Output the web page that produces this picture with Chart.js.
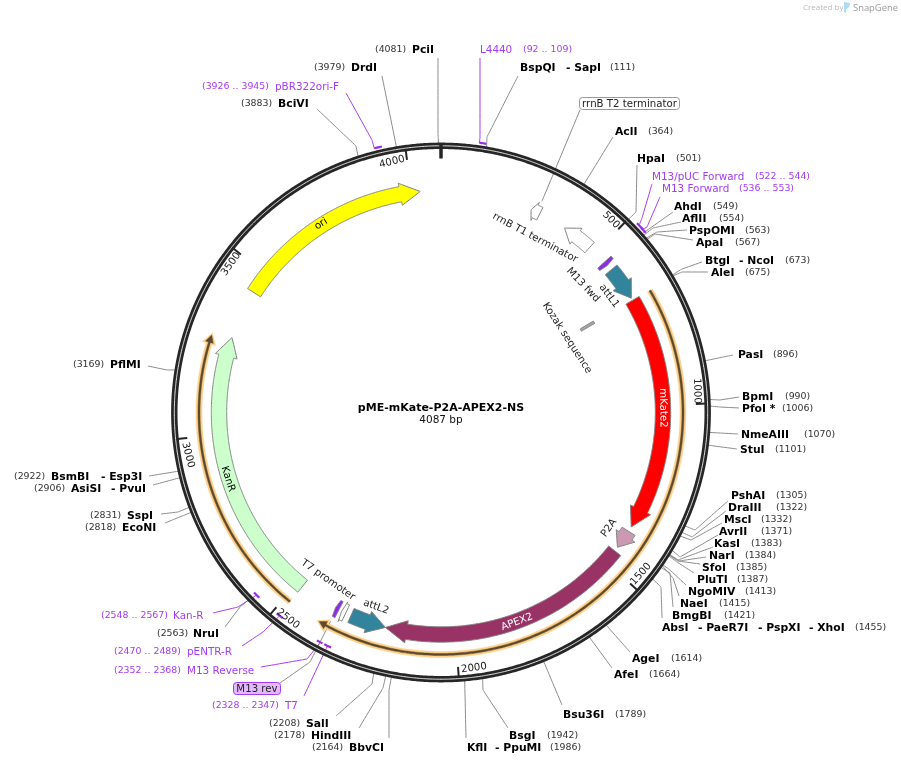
<!DOCTYPE html>
<html>
<head>
<meta charset="utf-8">
<title>pME-mKate-P2A-APEX2-NS</title>
<script src="https://cdn.jsdelivr.net/npm/chart.js@4"></script>
<style>
  html, body { margin: 0; padding: 0; background: #fff; }
  canvas { display: block; }
</style>
</head>
<body>
<canvas id="map" width="901" height="765"></canvas>
<script>
const PLASMID_NAME = 'pME-mKate-P2A-APEX2-NS';
const PLASMID_BP = 4087;

// features: start/end in bp, direction follows start -> end
const featureNames = ['ori', 'KanR', 'mKate2', 'APEX2', 'P2A', 'attL1', 'attL2', 'rrnB T1 terminator', 'rrnB T2 terminator', 'M13 fwd', 'M13 rev', 'T7 promoter', 'Kozak sequence'];
const featureStart = [3436, 2481, 677, 1459, 1389, 568, 2315, 477, 300, 538, 2354, 2332, 670];
const featureEnd   = [4026, 3289, 1374, 2208, 1446, 670, 2208, 384, 272, 551, 2366, 2345, 680];
const featureNeck  = [3967, 3232, 1317, 2145, 1405, 621, 2262, 425, 285, 547, 2362, 2341, 680];

const overlayNames = ['ORF forward', 'ORF reverse'];
const overlayStart = [678, 2482];
const overlayEnd   = [2393, 3283];

const tickBp = [500, 1000, 1500, 2000, 2500, 3000, 3500, 4000];
const tickLabels = ['500', '1000', '1500', '2000', '2500', '3000', '3500', '4000'];

const siteNames = [
  ['PciI'], ['DrdI'], ['BciVI'], ['BspQI', '- SapI'], ['AclI'], ['HpaI'], ['AhdI'], ['AflII'], ['PspOMI'], ['ApaI'],
  ['BtgI', '- NcoI'], ['AleI'], ['PasI'], ['BpmI'], ['PfoI *'], ['NmeAIII'], ['StuI'], ['PshAI'], ['DraIII'], ['MscI'],
  ['AvrII'], ['KasI'], ['NarI'], ['SfoI'], ['PluTI'], ['NgoMIV'], ['NaeI'], ['BmgBI'], ['AbsI', '- PaeR7I', '- PspXI', '- XhoI'],
  ['AgeI'], ['AfeI'], ['Bsu36I'], ['BsgI'], ['KflI', '- PpuMI'], ['SalI'], ['HindIII'], ['BbvCI'], ['NruI'],
  ['EcoNI'], ['SspI'], ['AsiSI', '- PvuI'], ['BsmBI', '- Esp3I'], ['PflMI']
];
const siteBp = [
  4081, 3979, 3883, 111, 364, 501, 549, 554, 563, 567,
  673, 675, 896, 990, 1006, 1070, 1101, 1305, 1322, 1332,
  1371, 1383, 1384, 1385, 1387, 1413, 1415, 1421, 1455,
  1614, 1664, 1789, 1942, 1986, 2208, 2178, 2164, 2563,
  2818, 2831, 2906, 2922, 3169
];

const primerNames = ['L4440', 'pBR322ori-F', 'M13/pUC Forward', 'M13 Forward', 'Kan-R', 'pENTR-R', 'M13 Reverse', 'T7'];
const primerStart = [92, 3926, 522, 536, 2548, 2470, 2352, 2328];
const primerEnd   = [109, 3945, 544, 553, 2567, 2489, 2368, 2347];

// label routing, same order as the lists above. path runs from the label towards the ring
const siteLayout = [
  { x: [412], num: 375, y: 50, path: [[438, 58], [438, 133]] },
  { x: [351], num: 314, y: 68, path: [[382, 76]] },
  { x: [278], num: 241, y: 104, path: [[317, 109], [356, 146]] },
  { x: [520, 566], num: 610, y: 68, path: [[518, 76], [487, 137]] },
  { x: [615], num: 648, y: 132, path: [[613, 137]] },
  { x: [637], num: 676, y: 159, path: [[637, 165], [636, 212]] },
  { x: [674], num: 713, y: 207, path: [[673, 212]] },
  { x: [682], num: 719, y: 219, path: [[681, 222], [653, 228]] },
  { x: [689], num: 745, y: 231, path: [[687, 230], [657, 232]] },
  { x: [696], num: 735, y: 243, path: [[693, 240], [655, 234]] },
  { x: [705, 739], num: 785, y: 261, path: [[702, 262], [682, 269]] },
  { x: [711], num: 745, y: 273, path: [[708, 272], [682, 272]] },
  { x: [738], num: 773, y: 355, path: [[733, 355]] },
  { x: [742], num: 785, y: 397, path: [[739, 397], [720, 400]] },
  { x: [742], num: 782, y: 409, path: [[739, 408], [720, 407]] },
  { x: [741], num: 804, y: 435, path: [[738, 434]] },
  { x: [740], num: 775, y: 450, path: [[737, 449]] },
  { x: [731], num: 776, y: 496, path: [[728, 501], [695, 530]] },
  { x: [728], num: 776, y: 508, path: [[726, 511], [692, 537]] },
  { x: [724], num: 761, y: 520, path: [[722, 523], [691, 540]] },
  { x: [719], num: 761, y: 532, path: [[718, 535], [680, 557]] },
  { x: [714], num: 751, y: 544, path: [[713, 547], [678, 560]] },
  { x: [709], num: 745, y: 556, path: [[706, 557], [679, 561]] },
  { x: [702], num: 736, y: 568, path: [[700, 564], [678, 561]] },
  { x: [697], num: 737, y: 580, path: [[694, 573], [677, 562]] },
  { x: [688], num: 745, y: 592, path: [[686, 585], [670, 570]] },
  { x: [680], num: 719, y: 604, path: [[679, 596], [673, 578]] },
  { x: [672], num: 724, y: 616, path: [[673, 607], [670, 573]] },
  { x: [662, 698, 758, 809], num: 855, y: 628, path: [[662, 618], [661, 587]] },
  { x: [632], num: 671, y: 659, path: [[630, 652]] },
  { x: [614], num: 649, y: 675, path: [[612, 668]] },
  { x: [563], num: 615, y: 715, path: [[562, 705]] },
  { x: [509], num: 547, y: 736, path: [[508, 728], [483, 690]] },
  { x: [467, 495], num: 550, y: 748, path: [[466, 738]] },
  { x: [306], num: 269, y: 724, path: [[336, 716], [372, 684]] },
  { x: [311], num: 274, y: 736, path: [[359, 728], [383, 688]] },
  { x: [349], num: 312, y: 748, path: [[389, 738], [389, 690]] },
  { x: [193], num: 157, y: 634, path: [[225, 627], [240, 607]] },
  { x: [122], num: 85, y: 528, path: [[165, 523]] },
  { x: [127], num: 90, y: 516, path: [[161, 514], [178, 512]] },
  { x: [71, 111], num: 34, y: 489, path: [[153, 485]] },
  { x: [51, 101], num: 14, y: 477, path: [[149, 476]] },
  { x: [110], num: 73, y: 365, path: [[148, 366], [167, 370]] }
];
const primerLayout = [
  { x: 480, num: 523, y: 50, path: [[480, 58], [480, 138]], at: 92 },
  { x: 275, num: 202, y: 87, path: [[346, 93], [372, 140]], at: 3926 },
  { x: 652, num: 755, y: 177, path: [[652, 184], [642, 218]], at: 530 },
  { x: 662, num: 739, y: 189, path: [[660, 197], [647, 227]], at: 542 },
  { x: 173, num: 101, y: 616, path: [[213, 613], [238, 607]], at: 2558 },
  { x: 187, num: 114, y: 652, path: [[242, 646], [263, 632]], at: 2480 },
  { x: 187, num: 114, y: 671, path: [[261, 667], [307, 659]], at: 2358 },
  { x: 285, num: 212, y: 706, path: [[304, 696]], at: 2338 }
];
const primerOutside = [true, true, true, true, false, false, false, false];
const tickLayout = [[611, 220, 45], [697, 391, 88], [641, 574, -48], [474, 668, -7], [288, 619, 38], [188, 455, 76], [231, 264, -55], [392, 162, -14]];
const featureColors = ['#ffff00', '#ccffcc', '#ff0000', '#993366', '#cc99b2', '#31849b', '#31849b', '#ffffff', '#ffffff', '#8f2be6', '#8f2be6', '#ffffff', '#a6a6a6'];
const featureLabels = [
  ['ori', 321, 224, -33, '#000'], ['KanR', 228, 479, 72, '#000'], ['mKate2', 663, 408, 89, '#fff'],
  ['APEX2', 517, 622, -20, '#fff'], ['P2A', 609, 528, -54, '#222'], ['attL1', 609, 296, 53, '#222'],
  ['attL2', 376, 607, 20, '#222'], ['rrnB T1 terminator', 535, 238, 28, '#222'], ['M13 fwd', 583, 285, 47, '#222'],
  ['T7 promoter', 328, 580, 35, '#222'], ['Kozak sequence', 567, 338, 57, '#222']
];

const CX = 441, CY = 412.5, FEATURE_R = 222, GOLD_R = 242;
const SITE_BLACK = '#000', NUM_GREY = '#333', PURPLE = '#a63bf2', LEADER = '#8c8c8c', RING = '#262626';

function polar(bp, r) {
  const a = bp / PLASMID_BP * 2 * Math.PI;
  return { x: CX + r * Math.sin(a), y: CY - r * Math.cos(a) };
}

function arcPoints(from, to, r) {
  const n = Math.max(2, Math.ceil(Math.abs(to - from) / 8));
  const pts = [];
  for (let i = 0; i <= n; i++) pts.push(polar(from + (to - from) * i / n, r));
  return pts;
}

function arrowShape(start, neck, end, r, hw, headHw) {
  const pts = arcPoints(start, neck, r + hw);
  pts.push(polar(neck, r + headHw), polar(end, r), polar(neck, r - headHw));
  pts.push(...arcPoints(neck, start, r - hw));
  pts.push(pts[0]);
  return pts;
}

// tiny tension keeps chart.js off its fast path, which merges points per pixel column
const lineDefaults = { showLine: true, pointRadius: 0, tension: 0.001, borderJoinStyle: 'round' };
const datasets = [];
function addLine(data, color, width) {
  datasets.push({ ...lineDefaults, data, borderColor: color, borderWidth: width, fill: false });
}
function addShape(data, fillColor, lineColor, width) {
  datasets.push({ ...lineDefaults, data, backgroundColor: fillColor, borderColor: lineColor, borderWidth: width, borderJoinStyle: 'miter', fill: 'shape' });
}

// leaders first so the ring covers their ends
siteBp.forEach((bp, i) => {
  const pts = siteLayout[i].path.map(p => ({ x: p[0], y: p[1] }));
  pts.push(polar(bp, 268));
  addLine(pts, LEADER, 1);
});
primerNames.forEach((name, i) => {
  const l = primerLayout[i];
  const pts = l.path.map(p => ({ x: p[0], y: p[1] }));
  pts.push(polar(l.at, primerOutside[i] ? 272 : 260));
  addLine(pts, PURPLE, 1);
});

// M13 rev and rrnB T2 call-outs
addLine([{ x: 280, y: 683 }, { x: 310, y: 662 }, polar(2360, 236)], LEADER, 1);
addLine([{ x: 580, y: 110 }, polar(290, 234)], LEADER, 1);

// backbone
addLine(arcPoints(0, PLASMID_BP, 266.7), RING, 6.4);
addLine(arcPoints(0, PLASMID_BP, 266.7), '#ffffff', 0.9);
addLine([polar(0, 269), polar(0, 254)], RING, 3.5);
tickBp.forEach(bp => addLine([polar(bp, 266), polar(bp, 255)], RING, 2));

primerNames.forEach((name, i) => {
  const r = primerOutside[i] ? 272.5 : 259.5;
  addLine(arcPoints(primerStart[i], primerEnd[i], r), '#9a2cf0', 2.2);
});

overlayNames.forEach((name, i) => {
  const s = overlayStart[i], e = overlayEnd[i], dir = e > s ? 1 : -1;
  addShape(arrowShape(s, e - dir * 30, e, GOLD_R, 3, 7), '#ffd08a', '#ffd08a', 0.5);
  addShape(arrowShape(s, e - dir * 26, e - dir * 6, GOLD_R, 1, 4), '#5c4a2c', '#5c4a2c', 0.5);
});

featureNames.forEach((name, i) => {
  let hw = 7.7, headHw = 11.2, r = FEATURE_R;
  if (name === 'Kozak sequence') { r = 170; headHw = 8; }
  if (name === 'M13 fwd' || name === 'M13 rev') { hw = 9; headHw = 9; }
  if (name === 'T7 promoter') { hw = 9; headHw = 11; }
  if (name.startsWith('rrnB')) { hw = 7; headHw = 10; }
  addShape(arrowShape(featureStart[i], featureNeck[i], featureEnd[i], r, hw, headHw), featureColors[i], '#808080', 1);
});

function put(ctx, text, x, y, font, color, align) {
  ctx.font = font;
  ctx.fillStyle = color;
  ctx.textAlign = align || 'left';
  ctx.fillText(text, x, y);
}

function putRotated(ctx, text, x, y, deg, font, color) {
  ctx.save();
  ctx.translate(x, y);
  ctx.rotate(deg * Math.PI / 180);
  put(ctx, text, 0, 0, font, color, 'center');
  ctx.restore();
}

const labelsPlugin = {
  id: 'mapLabels',
  afterDatasetsDraw(chart) {
    const { ctx, scales } = chart;
    const px = v => scales.x.getPixelForValue(v);
    const py = v => scales.y.getPixelForValue(v);
    const nameFont = 'bold 10.8px "DejaVu Sans"', numFont = '9.4px "DejaVu Sans"', primerFont = '10.4px "DejaVu Sans"', rotFont = '10.2px "DejaVu Sans"';
    ctx.save();
    ctx.textBaseline = 'middle';

    siteNames.forEach((names, i) => {
      const l = siteLayout[i];
      names.forEach((n, j) => put(ctx, n, px(l.x[j]), py(l.y), nameFont, SITE_BLACK));
      put(ctx, '(' + siteBp[i] + ')', px(l.num), py(l.y), numFont, NUM_GREY);
    });

    primerNames.forEach((n, i) => {
      const l = primerLayout[i];
      put(ctx, n, px(l.x), py(l.y), primerFont, PURPLE);
      put(ctx, '(' + primerStart[i] + ' .. ' + primerEnd[i] + ')', px(l.num), py(l.y), numFont, PURPLE);
    });

    tickLabels.forEach((t, i) => {
      const l = tickLayout[i];
      putRotated(ctx, t, px(l[0]), py(l[1]), l[2], rotFont, '#222');
    });
    featureLabels.forEach(l => putRotated(ctx, l[0], px(l[1]), py(l[2]), l[3], rotFont, l[4]));

    // boxed call-outs
    ctx.lineWidth = 1;
    ctx.beginPath();
    ctx.roundRect(px(579.5), py(97.5), 100, 12, 3);
    ctx.fillStyle = '#fff';
    ctx.fill();
    ctx.strokeStyle = '#999';
    ctx.stroke();
    put(ctx, 'rrnB T2 terminator', px(629.5), py(104), rotFont, '#222', 'center');
    ctx.beginPath();
    ctx.roundRect(px(233.5), py(682.5), 47, 12, 3);
    ctx.fillStyle = '#e3b8ff';
    ctx.fill();
    ctx.strokeStyle = '#a63bf2';
    ctx.stroke();
    put(ctx, 'M13 rev', px(257), py(689), rotFont, '#222', 'center');

    put(ctx, PLASMID_NAME, px(441), py(408), 'bold 11px "DejaVu Sans"', '#000', 'center');
    put(ctx, PLASMID_BP + ' bp', px(441), py(420), '10.5px "DejaVu Sans"', '#111', 'center');

    // watermark
    put(ctx, 'Created by', px(803), py(8), '8px "Open Sans"', '#b8b8b8');
    put(ctx, 'SnapGene', px(853), py(8), '9.4px "Open Sans"', '#9a9a9a');
    ctx.beginPath();
    ctx.moveTo(px(844), py(2));
    ctx.lineTo(px(850), py(3));
    ctx.quadraticCurveTo(px(850), py(8), px(846), py(9));
    ctx.lineTo(px(846), py(13));
    ctx.lineTo(px(844), py(12));
    ctx.closePath();
    ctx.fillStyle = '#a9def5';
    ctx.fill();
    ctx.restore();
  }
};

// chart.js paints the first dataset last, so flip to keep the order above
datasets.reverse();

new Chart(document.getElementById('map').getContext('2d'), {
  type: 'scatter',
  data: { datasets },
  options: {
    responsive: false,
    animation: false,
    layout: { padding: 0 },
    elements: { line: { capBezierPoints: false } },
    scales: {
      x: { type: 'linear', min: 0, max: 901, display: false },
      y: { type: 'linear', min: 0, max: 765, reverse: true, display: false }
    },
    plugins: { legend: { display: false }, tooltip: { enabled: false } }
  },
  plugins: [labelsPlugin]
});
</script>
</body>
</html>
